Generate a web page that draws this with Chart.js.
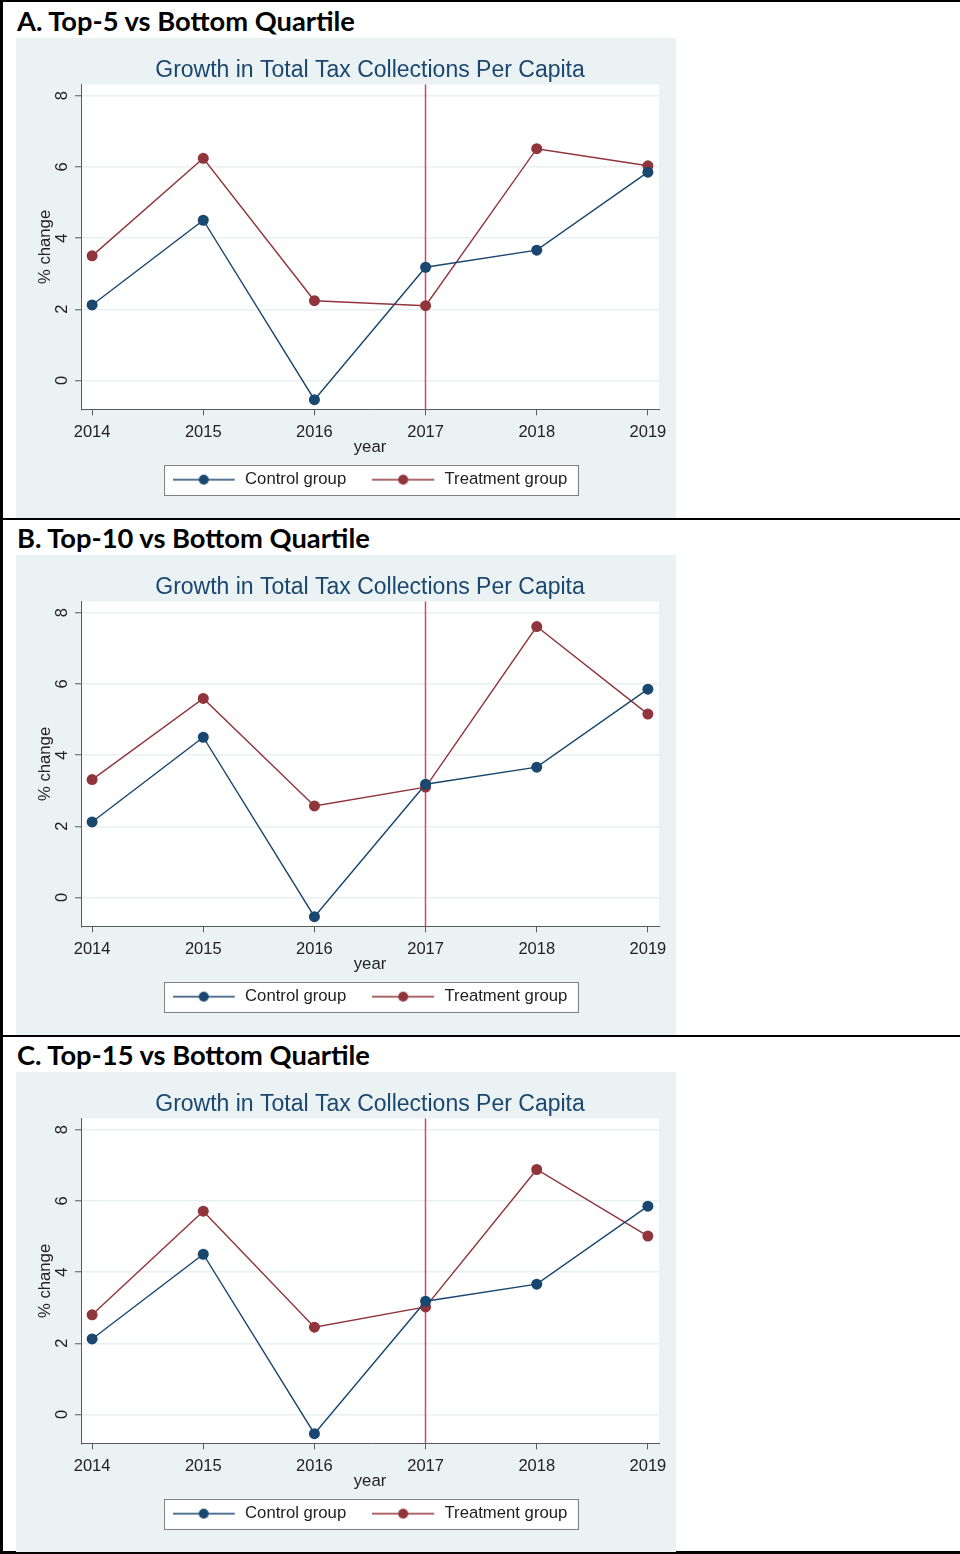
<!DOCTYPE html>
<html>
<head>
<meta charset="utf-8">
<script src="https://cdn.jsdelivr.net/npm/chart.js@4.4.0/dist/chart.umd.min.js"></script>
<style>
  body { margin: 0; background: #fff; }
  #page { position: relative; width: 960px; height: 1554px; overflow: hidden; }
  .rule { position: absolute; background: #000; }
  .panel-head { position: absolute; left: 17px; font: 700 27.3px Lato, sans-serif; color: #000; line-height: 30px; white-space: nowrap; }
  .chart-box { position: absolute; left: 16px; width: 660px; height: 480px; background: #EAF2F3; z-index: 2; }
</style>
</head>
<body>
<div id="page">
  <div class="rule" style="left:0;top:0;width:960px;height:2px"></div>
  <div class="rule" style="left:0;top:0;width:3px;height:1554px"></div>
  <div class="rule" style="left:0;top:518px;width:960px;height:2px"></div>
  <div class="rule" style="left:0;top:1035px;width:960px;height:2px"></div>
  <div class="rule" style="left:0;top:1551px;width:960px;height:3px"></div>

  <div class="panel-head" id="head0" style="top:6px"></div>
  <div class="chart-box" style="top:38px"><canvas id="chart0" width="660" height="480"></canvas></div>

  <div class="panel-head" id="head1" style="top:523px"></div>
  <div class="chart-box" style="top:555px"><canvas id="chart1" width="660" height="480"></canvas></div>

  <div class="panel-head" id="head2" style="top:1040px"></div>
  <div class="chart-box" style="top:1072px"><canvas id="chart2" width="660" height="480"></canvas></div>
</div>

<script>
const panelTitles = ['A. Top-5 vs Bottom Quartile', 'B. Top-10 vs Bottom Quartile', 'C. Top-15 vs Bottom Quartile']
const chartTitle = 'Growth in Total Tax Collections Per Capita'

const years = [2014, 2015, 2016, 2017, 2018, 2019]
const controlGroup = [2.12, 4.50, -0.54, 3.18, 3.66, 5.85]
const treatTop5 = [3.50, 6.24, 2.24, 2.10, 6.51, 6.03]
const treatTop10 = [3.31, 5.59, 2.57, 3.10, 7.61, 5.15]
const treatTop15 = [2.80, 5.71, 2.45, 3.02, 6.88, 5.01]
const treatments = [treatTop5, treatTop10, treatTop15]

const yTicks = [0, 2, 4, 6, 8]
const treatYear = 2017

const navy = '#1A476F'
const maroon = '#90353B'
const axisGray = '#5a5a5a'
const family = '"Liberation Sans", Arial, sans-serif'
const tickFont = { family, size: 16.5 }
const labelFont = { family, size: 16.7 }

// line with a dot in the middle, used as legend key
function legendKey(color) {
    const c = document.createElement('canvas')
    c.width = 64
    c.height = 12
    const g = c.getContext('2d')
    g.strokeStyle = color
    g.lineWidth = 1.5
    g.beginPath()
    g.moveTo(0, 6)
    g.lineTo(62, 6)
    g.stroke()
    g.fillStyle = color
    g.beginPath()
    g.arc(31, 6, 5, 0, Math.PI * 2)
    g.fill()
    return c
}
const keys = [legendKey(navy), legendKey(maroon)]

// white plot region
const plotBg = {
    id: 'plotBg',
    beforeDraw(chart) {
        const { ctx, chartArea } = chart
        ctx.save()
        ctx.fillStyle = '#fff'
        ctx.fillRect(chartArea.left, chartArea.top, chartArea.width, chartArea.height)
        ctx.restore()
    }
}

// vertical marker at the treatment year
const treatLine = {
    id: 'treatLine',
    beforeDatasetsDraw(chart) {
        const { ctx, chartArea, scales } = chart
        const x = Math.floor(scales.x.getPixelForValue(treatYear)) + 0.5
        ctx.save()
        ctx.strokeStyle = '#D8456C'
        ctx.lineWidth = 1.5
        ctx.beginPath()
        ctx.moveTo(x, chartArea.top)
        ctx.lineTo(x, chartArea.bottom)
        ctx.stroke()
        ctx.restore()
    }
}

// white box with grey frame behind the legend
const legendFrame = {
    id: 'legendFrame',
    beforeDraw(chart) {
        const boxes = chart.legend.legendHitBoxes
        if (!boxes || !boxes.length) return
        const left = Math.min(...boxes.map(b => b.left)) - 9
        const right = Math.max(...boxes.map(b => b.left + b.width)) + 10
        const mid = boxes[0].top + boxes[0].height / 2
        const ctx = chart.ctx
        ctx.save()
        ctx.fillStyle = '#fff'
        ctx.fillRect(left, mid - 15, right - left, 30)
        ctx.strokeStyle = '#808080'
        ctx.lineWidth = 1
        ctx.strokeRect(Math.round(left) + 0.5, Math.round(mid - 15) + 0.5, Math.round(right - left), 30)
        ctx.restore()
    }
}

function drawChart(id, treatment) {
    const ctx = document.getElementById(id)
    return new Chart(ctx, {
        type: 'line',
        data: {
            datasets: [{
                label: 'Control group',
                data: years.map((y, i) => ({ x: y, y: controlGroup[i] })),
                borderColor: navy,
                backgroundColor: navy,
                borderWidth: 1.4,
                pointRadius: 5.5,
                pointBorderWidth: 0,
                tension: 0
            }, {
                label: 'Treatment group',
                data: years.map((y, i) => ({ x: y, y: treatment[i] })),
                borderColor: maroon,
                backgroundColor: maroon,
                borderWidth: 1.4,
                pointRadius: 5.5,
                pointBorderWidth: 0,
                tension: 0
            }]
        },
        options: {
            responsive: false,
            animation: false,
            events: [],
            layout: { padding: { top: 0, right: 17, bottom: 20, left: 0 } },
            scales: {
                x: {
                    type: 'linear',
                    min: 2013.9,
                    max: 2019.1,
                    afterBuildTicks: s => { s.ticks = years.map(v => ({ value: v })) },
                    afterFit: s => { s.height = 36 },
                    border: { color: axisGray, width: 1 },
                    grid: { drawOnChartArea: false, tickLength: 6, tickColor: axisGray, tickWidth: 1 },
                    ticks: { padding: 7, maxRotation: 0, autoSkip: false, color: '#222', font: tickFont, callback: v => String(v) },
                    title: { display: true, text: 'year', color: '#222', font: labelFont, padding: { top: 0, bottom: -12.5 } }
                },
                y: {
                    min: -0.81,
                    max: 8.31,
                    afterBuildTicks: s => { s.ticks = yTicks.map(v => ({ value: v })) },
                    afterFit: s => { s.width = 65 },
                    border: { color: axisGray, width: 1 },
                    grid: { color: '#E8F0F2', lineWidth: 1.5, tickColor: axisGray, tickLength: 6, tickWidth: 1 },
                    ticks: { minRotation: 90, maxRotation: 90, crossAlign: 'center', padding: 8, color: '#222', font: tickFont },
                    title: { display: true, text: '% change', color: '#222', font: labelFont, padding: { top: 19.5, bottom: 0 } }
                }
            },
            plugins: {
                title: {
                    display: true,
                    text: chartTitle,
                    fullSize: false,
                    color: navy,
                    font: { family, size: 23, weight: 'normal' },
                    padding: { top: 19, bottom: 0 }
                },
                legend: {
                    position: 'bottom',
                    fullSize: false,
                    labels: {
                        usePointStyle: true,
                        pointStyleWidth: 64,
                        padding: 26,
                        color: '#222',
                        font: labelFont,
                        generateLabels: chart => Chart.defaults.plugins.legend.labels.generateLabels(chart)
                            .map((item, i) => ({ ...item, pointStyle: keys[i] }))
                    }
                },
                tooltip: { enabled: false }
            }
        },
        plugins: [plotBg, treatLine, legendFrame]
    })
}

panelTitles.forEach((t, i) => {
    document.getElementById('head' + i).textContent = t
    drawChart('chart' + i, treatments[i])
})
</script>
</body>
</html>
